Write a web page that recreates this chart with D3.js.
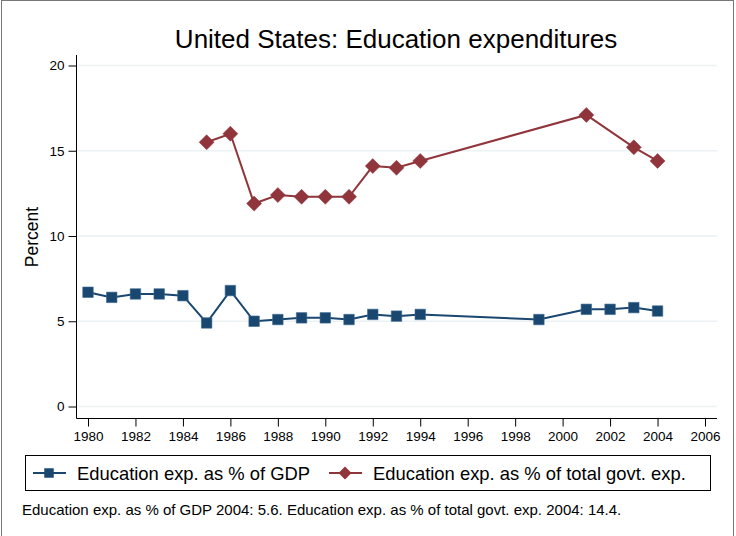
<!DOCTYPE html>
<html><head><meta charset="utf-8">
<script src="https://cdn.jsdelivr.net/npm/d3@7"></script>
<style>body{margin:0;background:#fff}svg{display:block;font-family:"Liberation Sans",Arial,sans-serif}</style>
</head><body><svg id="c" width="736" height="536"></svg>
<script>
const gdpYears = [1980,1981,1982,1983,1984,1985,1986,1987,1988,1989,1990,1991,1992,1993,1994,1999,2001,2002,2003,2004];
const gdpValues = [6.7,6.4,6.6,6.6,6.5,4.9,6.8,5.0,5.1,5.2,5.2,5.1,5.4,5.3,5.4,5.1,5.7,5.7,5.8,5.6];
const govYears = [1985,1986,1987,1988,1989,1990,1991,1992,1993,1994,2001,2003,2004];
const govValues = [15.5,16.0,11.9,12.4,12.3,12.3,12.3,14.1,14.0,14.4,17.1,15.2,14.4];
const xTicks = [1980,1982,1984,1986,1988,1990,1992,1994,1996,1998,2000,2002,2004,2006];
const yTicks = [0,5,10,15,20];
const seriesNames = ["Education exp. as % of GDP","Education exp. as % of total govt. exp."];
const titleText = "United States: Education expenditures";
const noteText = "Education exp. as % of GDP 2004: 5.6. Education exp. as % of total govt. exp. 2004: 14.4.";

(function(){
const blue = "#1a476f", red = "#90353b";
const svg = d3.select("#c");
svg.append("rect").attr("x",1.5).attr("y",0.5).attr("width",732).attr("height",540)
  .attr("fill","#fff").attr("stroke","#777").attr("stroke-width",1);

const x = d3.scaleLinear().domain([1980,2006]).range([88,705]);
const y = d3.scaleLinear().domain([0,20]).range([406.5,65.5]);
const pL = 76.5, pR = 717, pB = 418.5, pT = 55;

svg.append("g").selectAll("line").data(yTicks).join("line")
  .attr("x1",pL+1).attr("x2",pR).attr("y1",d=>y(d)).attr("y2",d=>y(d))
  .attr("stroke","#eaf2f3").attr("stroke-width",1.5);

const ya = svg.append("g").attr("transform",`translate(${pL},0)`)
  .call(d3.axisLeft(y).tickValues(yTicks).tickSize(8).tickPadding(4).tickSizeOuter(0));
ya.select(".domain").attr("d",`M0,${pT}V${pB}`).attr("stroke","#000");
ya.selectAll("text").attr("font-size",13.5).attr("fill","#000").attr("font-family","Liberation Sans, Arial, sans-serif");

const xa = svg.append("g").attr("transform",`translate(0,${pB})`)
  .call(d3.axisBottom(x).tickValues(xTicks).tickFormat(d3.format("d")).tickSize(8).tickPadding(5).tickSizeOuter(0));
xa.select(".domain").attr("d",`M${pL},0H${pR}`).attr("stroke","#000");
xa.selectAll("text").attr("font-size",13.5).attr("fill","#000").attr("font-family","Liberation Sans, Arial, sans-serif");

const line = d3.line().x(d=>x(d[0])).y(d=>y(d[1]));
const gdp = gdpYears.map((yr,i)=>[yr,gdpValues[i]]);
const gov = govYears.map((yr,i)=>[yr,govValues[i]]);

svg.append("path").datum(gov).attr("d",line).attr("fill","none").attr("stroke",red).attr("stroke-width",2);
svg.append("path").datum(gdp).attr("d",line).attr("fill","none").attr("stroke",blue).attr("stroke-width",2);

const sq = d3.symbol().type(d3.symbolSquare).size(110);
function diamond(s){ return `M0,${-s}L${s},0L0,${s}L${-s},0Z`; }

svg.append("g").selectAll("path").data(gov).join("path")
  .attr("transform",d=>`translate(${x(d[0])},${y(d[1])})`)
  .attr("d",diamond(7.5)).attr("fill",red).attr("stroke",red).attr("stroke-width",0.5);
svg.append("g").selectAll("path").data(gdp).join("path")
  .attr("transform",d=>`translate(${x(d[0])},${y(d[1])})`)
  .attr("d",sq).attr("fill",blue).attr("stroke","#3a6a94").attr("stroke-width",0.6);

svg.append("text").attr("x",396).attr("y",48).attr("text-anchor","middle")
  .attr("font-size",26).attr("fill","#000").text(titleText);

svg.append("text").attr("transform","translate(38,237) rotate(-90)").attr("text-anchor","middle")
  .attr("font-size",17.5).attr("fill","#000").text("Percent");

svg.append("rect").attr("x",25.5).attr("y",455.5).attr("width",685).attr("height",35)
  .attr("fill","#fff").attr("stroke","#000").attr("stroke-width",1);
const ly = 473;
svg.append("line").attr("x1",33).attr("x2",66).attr("y1",ly).attr("y2",ly).attr("stroke",blue).attr("stroke-width",2);
svg.append("path").attr("transform",`translate(49,${ly})`).attr("d",d3.symbol().type(d3.symbolSquare).size(90)).attr("fill",blue);
svg.append("text").attr("x",77).attr("y",ly+6.5).attr("font-size",18.4).attr("fill","#000").text(seriesNames[0]);
svg.append("line").attr("x1",329).attr("x2",362).attr("y1",ly).attr("y2",ly).attr("stroke",red).attr("stroke-width",2);
svg.append("path").attr("transform",`translate(345,${ly})`).attr("d",diamond(6.5)).attr("fill",red);
svg.append("text").attr("x",373).attr("y",ly+6.5).attr("font-size",18.4).attr("fill","#000").text(seriesNames[1]);

svg.append("text").attr("x",22).attr("y",515).attr("font-size",15).attr("fill","#000").text(noteText);
})();
</script></body></html>
